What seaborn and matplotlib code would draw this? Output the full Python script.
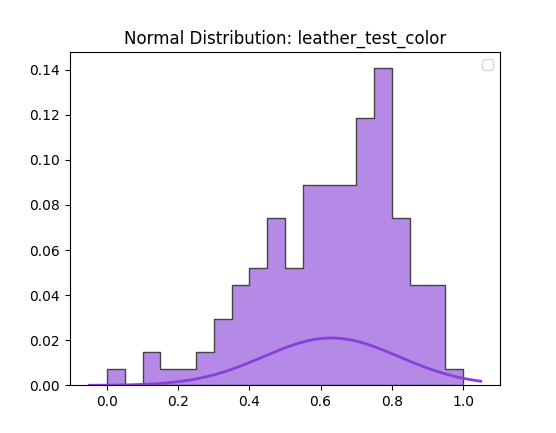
import numpy as np
import pandas as pd
import matplotlib
matplotlib.use("Agg")
import matplotlib.pyplot as plt
import seaborn as sns

# bin centres (width 0.05 from 0 to 1) and counts
bin_centres = [0.025 + 0.05 * i for i in range(20)]
counts = [1, 0, 2, 1, 1, 2, 4, 6, 7, 10, 7, 12, 12, 12, 16, 19, 10, 6, 6, 1]
bin_edges = [0.05 * i for i in range(21)]

# fitted normal curve parameters
curve_mean = 0.63
curve_sd = 0.19
curve_scale = 0.01

df = pd.DataFrame({"x": bin_centres, "w": counts})

fig, ax = plt.subplots(figsize=(5.56, 4.33), dpi=100)
sns.histplot(data=df, x="x", weights="w", bins=bin_edges,
             stat="probability", element="step", color="#9a5fdc",
             alpha=0.75, edgecolor="#444444", ax=ax)
ax.collections[0].set_facecolor("#b48ae6")
xs = np.linspace(-0.05, 1.05, 200)
ys = curve_scale * np.exp(-0.5 * ((xs - curve_mean) / curve_sd) ** 2) / (curve_sd * np.sqrt(2 * np.pi))
ax.plot(xs, ys, color="#8a3fd9", lw=2)
ax.set_title("Normal Distribution: leather_test_color")
ax.set_xlabel("")
ax.set_ylabel("")
ax.legend(handles=[], loc="upper right")
fig.savefig("out.png")
